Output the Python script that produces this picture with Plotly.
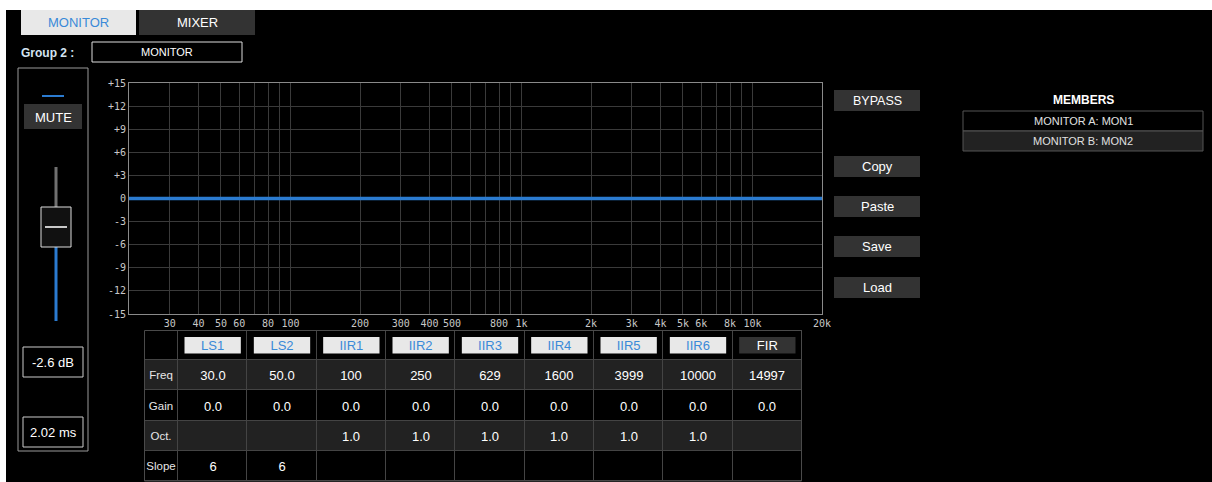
import plotly.graph_objects as go

# ---------------- data ----------------
curve_freq = [20, 20000]          # Hz
curve_gain = [0, 0]               # dB (flat response)

x_grid = [30, 40, 50, 60, 70, 80, 90, 100, 200, 300, 400, 500, 600, 700, 800, 900,
          1000, 2000, 3000, 4000, 5000, 6000, 7000, 8000, 9000, 10000, 20000]
x_labels = ["30", "40", "50", "60", "", "80", "", "100", "200", "300", "400", "500", "", "", "800", "",
            "1k", "2k", "3k", "4k", "5k", "6k", "", "8k", "", "10k", "20k"]
y_ticks = [15, 12, 9, 6, 3, 0, -3, -6, -9, -12, -15]
y_labels = ["+15", "+12", "+9", "+6", "+3", "0", "-3", "-6", "-9", "-12", "-15"]

bands = ["LS1", "LS2", "IIR1", "IIR2", "IIR3", "IIR4", "IIR5", "IIR6", "FIR"]
band_freq = ["30.0", "50.0", "100", "250", "629", "1600", "3999", "10000", "14997"]
band_gain = ["0.0", "0.0", "0.0", "0.0", "0.0", "0.0", "0.0", "0.0", "0.0"]
band_oct = ["", "", "1.0", "1.0", "1.0", "1.0", "1.0", "1.0", ""]
band_slope = ["6", "6", "", "", "", "", "", "", ""]
row_labels = ["Freq", "Gain", "Oct.", "Slope"]

side_buttons = ["BYPASS", "Copy", "Paste", "Save", "Load"]
members = ["MONITOR A: MON1", "MONITOR B: MON2"]
fader_db = "-2.6 dB"
delay_ms = "2.02 ms"

# ---------------- helpers ----------------
W, H = 1212, 482
FONT = "Liberation Sans, Arial, sans-serif"
BLUE = "#2b7bd0"
TXTBLUE = "#3a8ad8"


def px(x):
    return x / W


def py(y):
    return 1 - y / H


shapes = []
annotations = []


def rect(x0, y0, x1, y1, fill, line=None, lw=1, layer="below"):
    shapes.append(dict(type="rect", xref="paper", yref="paper",
                       x0=px(x0), x1=px(x1), y0=py(y1), y1=py(y0),
                       fillcolor=fill,
                       line=dict(color=line if line else "rgba(0,0,0,0)", width=lw if line else 0),
                       layer=layer))


def seg(x0, y0, x1, y1, color, lw):
    shapes.append(dict(type="line", xref="paper", yref="paper",
                       x0=px(x0), x1=px(x1), y0=py(y0), y1=py(y1),
                       line=dict(color=color, width=lw), layer="below"))


def text(x, y, s, size=13, color="#ffffff", bold=False, xanchor="center"):
    annotations.append(dict(xref="paper", yref="paper", x=px(x), y=py(y),
                            text=f"<b>{s}</b>" if bold else s, showarrow=False,
                            xanchor=xanchor, yanchor="middle",
                            font=dict(family=FONT, size=size, color=color)))


# ---------------- page chrome ----------------
rect(0, 0, W, 10, "#ffffff")
rect(0, 0, 6, H, "#ffffff")

# tabs
rect(21, 10, 136, 35, "#e8e8e8")
text(78.5, 22.5, "MONITOR", 13, TXTBLUE)
rect(139, 10, 255, 35, "#333333")
text(197, 22.5, "MIXER", 13, "#ffffff")

# group header
text(19, 52.5, "Group 2 :", 12, "#d4e4f2", bold=True, xanchor="left")
rect(92, 42, 242, 62, "#000000", "#dddddd", 1)
text(167, 52, "MONITOR", 11, "#ffffff")

# left fader panel
rect(18, 68, 88, 451, "rgba(0,0,0,0)", "#9a9a9a", 1)
seg(42, 96, 64, 96, BLUE, 2)
rect(24, 104, 82, 129, "#333333")
text(53, 117, "MUTE", 13, "#ffffff")
seg(56, 167, 56, 207, "#707070", 3)
seg(56, 247, 56, 321, BLUE, 3)
rect(41, 207, 71, 247, "#111111", "#dddddd", 1)
seg(45, 227, 67, 227, "#c8c8c8", 2)
rect(23, 347, 83, 377, "#000000", "#cccccc", 1)
text(53, 362, fader_db, 13, "#ffffff")
rect(23, 417, 83, 447, "#000000", "#cccccc", 1)
text(53, 432, delay_ms, 13, "#ffffff")

# right side buttons
btn_y = [90, 156, 196, 236, 277]
for label, y0 in zip(side_buttons, btn_y):
    rect(834, y0, 920, y0 + 21, "#333333")
    text(877, y0 + 10.5, label, 13 if label != "BYPASS" else 12.5, "#ffffff")

# members
text(1083, 100, "MEMBERS", 12, "#ffffff", bold=True)
for i, m in enumerate(members):
    y0 = 111 + i * 20
    rect(963, y0, 1203, y0 + 20, "#000000" if i == 0 else "#222222", "#555555", 1)
    text(1083, y0 + 10, m, 11, "#e0e0e0")

# ---------------- table geometry (pixel-like units on x2/y2) ----------------
tbl_x0, tbl_x1, tbl_y0 = 144, 802, 330
label_w = 34
col_w = (tbl_x1 - tbl_x0 - label_w) / len(bands)
col_edges = [label_w + i * col_w for i in range(len(bands) + 1)]
col_mid = [(a + b) / 2 for a, b in zip(col_edges[:-1], col_edges[1:])]
row_edges = [0, 30, 60, 91, 121, 151]
tbl_w = tbl_x1 - tbl_x0
tbl_h = 152

value_rows = [[""] * len(bands), band_freq, band_gain, band_oct, band_slope]
label_rows = [[""]] + [[r] for r in row_labels]
row_shade = [0, 1, 0, 1, 0]

shapes.append(dict(type="rect", xref="x2", yref="y2", x0=0, x1=tbl_w, y0=0, y1=row_edges[-1],
                   fillcolor="#444444", line=dict(width=0), layer="below"))
shapes.append(dict(type="rect", xref="x2", yref="y2", x0=0.5, x1=tbl_w - 0.5, y0=0.5, y1=row_edges[-1],
                   fillcolor="rgba(0,0,0,0)", line=dict(color="#4a4a4a", width=1), layer="above"))

# ---------------- figure ----------------
fig = go.Figure()

fig.add_trace(go.Scatter(x=curve_freq, y=curve_gain, mode="lines",
                         line=dict(color=BLUE, width=3.5), hoverinfo="skip",
                         showlegend=False, xaxis="x", yaxis="y"))

cs = [[0, "#000000"], [1, "#222222"]]
fig.add_trace(go.Heatmap(
    x=col_edges, y=row_edges, z=[[s] * len(bands) for s in row_shade],
    text=value_rows, texttemplate="%{text}",
    textfont=dict(family=FONT, size=13, color="#ffffff"),
    colorscale=cs, zmin=0, zmax=1, showscale=False, xgap=1, ygap=1,
    hoverinfo="skip", xaxis="x2", yaxis="y2"))

fig.add_trace(go.Heatmap(
    x=[0, label_w], y=row_edges, z=[[s] for s in row_shade],
    text=label_rows, texttemplate="%{text}",
    textfont=dict(family=FONT, size=11.5, color="#e6e6e6"),
    colorscale=cs, zmin=0, zmax=1, showscale=False, xgap=1, ygap=1,
    hoverinfo="skip", xaxis="x2", yaxis="y2"))

fig.add_trace(go.Bar(
    x=col_mid, y=[16.5] * len(bands), base=[7] * len(bands), width=[col_w - 13] * len(bands),
    marker=dict(color=["#333333" if b == "FIR" else "#e8e8e8" for b in bands], line=dict(width=0)),
    text=bands, textposition="inside", insidetextanchor="middle", textangle=0,
    constraintext="none",
    textfont=dict(family=FONT, size=13,
                  color=["#ffffff" if b == "FIR" else TXTBLUE for b in bands]),
    hoverinfo="skip", showlegend=False, xaxis="x2", yaxis="y2"))

fig.update_layout(
    template="none",
    width=W, height=H,
    margin=dict(l=0, r=0, t=0, b=0, pad=0, autoexpand=False),
    paper_bgcolor="#000000", plot_bgcolor="#000000",
    showlegend=False,
    shapes=shapes, annotations=annotations,
    xaxis=dict(type="log", domain=[px(129), px(822)], automargin=False,
               range=[1.30103, 4.30103],
               tickmode="array", tickvals=x_grid, ticktext=x_labels,
               showgrid=True, gridcolor="#3a3a3a", gridwidth=1,
               showline=True, linecolor="#8a8a8a", linewidth=1, mirror=True,
               zeroline=False, ticks="",
               tickfont=dict(family="DejaVu Sans Mono", size=10, color="#c8c8c8")),
    yaxis=dict(domain=[py(314), py(83)], range=[-15, 15], automargin=False,
               tickmode="array", tickvals=y_ticks, ticktext=y_labels,
               showgrid=True, gridcolor="#3a3a3a", gridwidth=1,
               showline=True, linecolor="#8a8a8a", linewidth=1, mirror=True,
               zeroline=False, ticks="",
               tickfont=dict(family="DejaVu Sans Mono", size=10, color="#c8c8c8")),
    xaxis2=dict(domain=[px(tbl_x0), px(tbl_x1)], range=[0, tbl_w], visible=False,
                fixedrange=True, automargin=False),
    yaxis2=dict(domain=[0, py(tbl_y0)], range=[tbl_h, 0], visible=False,
                fixedrange=True, automargin=False),
)

post = "document.body.style.margin='0';document.body.style.overflow='hidden';"
fig.write_html("out.html", config={"displayModeBar": False}, post_script=post)
